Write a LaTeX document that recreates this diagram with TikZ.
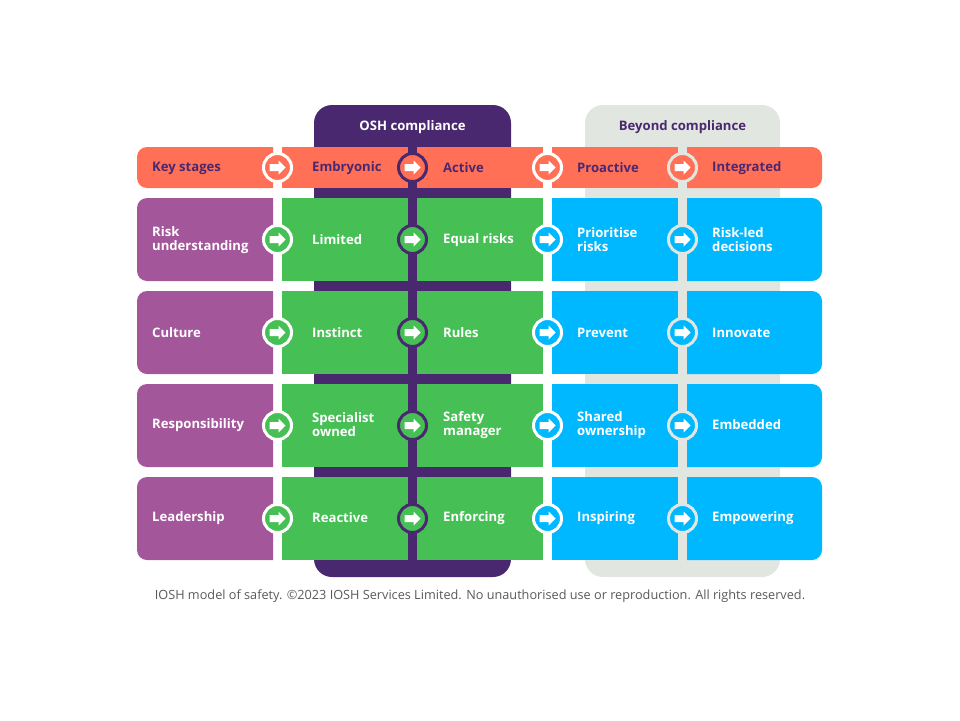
\documentclass[tikz,border=0pt]{standalone}
\usepackage{fontspec}
\setmainfont{Open Sans}
\begin{document}
\begin{tikzpicture}[x=1pt,y=-1pt,
  lbl/.style={anchor=west,align=left,font=\bfseries\fontsize{13.1}{14}\selectfont,text=white,inner sep=0},
  klbl/.style={lbl,text=dkp},
  hdr/.style={font=\bfseries\fontsize{13.1}{14}\selectfont,text=dkp,inner sep=0},
  circ/.style={circle,minimum size=28,inner sep=0,line width=3}]
\definecolor{dkp}{HTML}{4A2870}
\definecolor{org}{HTML}{FF7057}
\definecolor{prp}{HTML}{A4569A}
\definecolor{grn}{HTML}{46C055}
\definecolor{blu}{HTML}{00B8FF}
\definecolor{gry}{HTML}{E1E6E1}
\useasboundingbox (0,0) rectangle (960,720);
% backdrops
\fill[dkp,rounded corners=18] (314,105) rectangle (511,577);
\fill[gry,rounded corners=18] (585,105) rectangle (780,577);
\node[hdr,text=white] (h1) at (412.5,127) {OSH compliance};
\node[hdr] (h2) at (682.5,127) {Beyond compliance};
% rows: y1 y2 colors
\newcommand{\rowcells}[8]{%
  \begin{scope}\clip (137,#1) rectangle (273,#2);
    \fill[#3,rounded corners=10] (137,#1) rectangle (300,#2);\end{scope}
  \fill[#4] (282,#1) rectangle (408,#2);
  \fill[#5] (417,#1) rectangle (543,#2);
  \fill[#6] (552,#1) rectangle (678,#2);
  \begin{scope}\clip (687,#1) rectangle (822,#2);
    \fill[#7,rounded corners=10] (660,#1) rectangle (822,#2);\end{scope}
}
\newcommand{\arrows}[6]{%
  \node[circ,draw=white,fill=#2] (#6a) at (277.5,#1) {};
  \node[circ,draw=dkp,fill=#3] (#6b) at (412.5,#1) {};
  \node[circ,draw=white,fill=#4] (#6c) at (547.5,#1) {};
  \node[circ,draw=gry,fill=#5] (#6d) at (682.5,#1) {};
  \foreach \n in {a,b,c,d}{
    \fill[white] ([shift={(-8,-3.5)}]#6\n.center) -- ++(9,0) -- ++(0,-3.5) -- ++(7,7) -- ++(-7,7) -- ++(0,-3.5) -- ++(-9,0) -- cycle;}
}
\rowcells{147}{188}{org}{org}{org}{org}{org}{}
\arrows{167.5}{org}{org}{org}{org}{k}
\node[klbl] (k0) at (152,168) {Key stages};
\node[klbl] (k1) at (312,168) {Embryonic};
\node[klbl] (k2) at (443,168) {Active};
\node[klbl] (k3) at (577,168) {Proactive};
\node[klbl] (k4) at (712,168) {Integrated};

\rowcells{198}{281}{prp}{grn}{grn}{blu}{blu}{}
\arrows{239.5}{grn}{grn}{blu}{blu}{r}
\node[lbl] (r0) at (152,240) {Risk\\understanding};
\node[lbl] (r1) at (312,240) {Limited};
\node[lbl] (r2) at (443,240) {Equal risks};
\node[lbl] (r3) at (577,240) {Prioritise\\risks};
\node[lbl] (r4) at (712,240) {Risk-led\\decisions};

\rowcells{291}{374}{prp}{grn}{grn}{blu}{blu}{}
\arrows{332.5}{grn}{grn}{blu}{blu}{c}
\node[lbl] (c0) at (152,333) {Culture};
\node[lbl] (c1) at (312,333) {Instinct};
\node[lbl] (c2) at (443,333) {Rules};
\node[lbl] (c3) at (577,333) {Prevent};
\node[lbl] (c4) at (712,333) {Innovate};

\rowcells{384}{467}{prp}{grn}{grn}{blu}{blu}{}
\arrows{425.5}{grn}{grn}{blu}{blu}{s}
\node[lbl] (s0) at (152,425) {Responsibility};
\node[lbl] (s1) at (312,425) {Specialist\\owned};
\node[lbl] (s2) at (443,425) {Safety\\manager};
\node[lbl] (s3) at (577,425) {Shared\\ownership};
\node[lbl] (s4) at (712,425) {Embedded};

\rowcells{477}{560}{prp}{grn}{grn}{blu}{blu}{}
\arrows{518.5}{grn}{grn}{blu}{blu}{l}
\node[lbl] (l0) at (152,518) {Leadership};
\node[lbl] (l1) at (312,518) {Reactive};
\node[lbl] (l2) at (443,518) {Enforcing};
\node[lbl] (l3) at (577,518) {Inspiring};
\node[lbl] (l4) at (712,518) {Empowering};

\node[font=\fontsize{12.7}{14}\selectfont,text=black!65,inner sep=0] (cap) at (480,596) {IOSH model of safety. ©2023 IOSH Services Limited. No unauthorised use or reproduction. All rights reserved.};
\end{tikzpicture}
\end{document}
